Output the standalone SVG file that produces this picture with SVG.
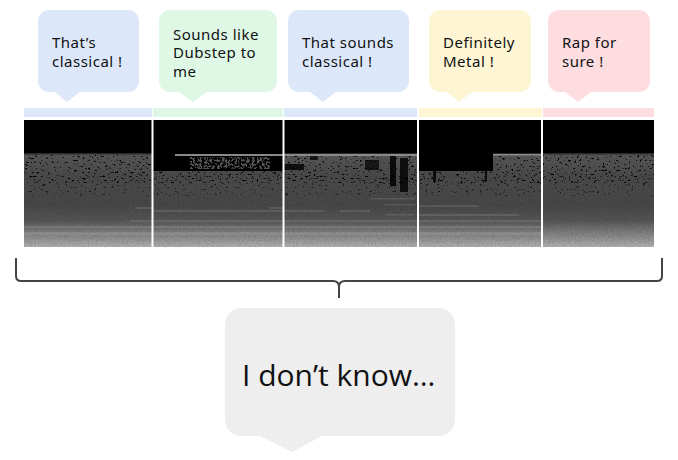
<svg xmlns="http://www.w3.org/2000/svg" width="678" height="460" viewBox="0 0 678 460">
<defs>
<style>
.t{font-family:"Noto Sans","Open Sans",sans-serif;font-size:15px;letter-spacing:0.5px;fill:#111}
.big{font-family:"Open Sans","Noto Sans",sans-serif;font-size:30px;fill:#111}
.blue{fill:#dce8fa}.green{fill:#dff8e5}.yellow{fill:#fdf5d3}.pink{fill:#fddde0}.grey{fill:#eeeeee}
.sep{stroke:#fff;stroke-width:2}
filter{color-interpolation-filters:sRGB}
</style>
<linearGradient id="spg" x1="0" y1="0" x2="0" y2="1">
<stop offset="0" stop-color="#585858"/>
<stop offset="0.26" stop-color="#585858"/>
<stop offset="0.43" stop-color="#4a4a4a"/>
<stop offset="0.67" stop-color="#474747"/>
<stop offset="0.79" stop-color="#545454"/>
<stop offset="0.85" stop-color="#6e6e6e"/>
<stop offset="0.93" stop-color="#8e8e8e"/>
<stop offset="1" stop-color="#b0b0b0"/>
</linearGradient>
<filter id="noise" x="0" y="0" width="100%" height="100%" color-interpolation-filters="sRGB">
<feTurbulence type="fractalNoise" baseFrequency="0.6 0.5" numOctaves="2" seed="4" result="n"/>
<feColorMatrix in="n" type="matrix" values="0.3 0 0 0 0.82  0.3 0 0 0 0.82  0.3 0 0 0 0.82  0 0 0 0 1" result="g"/>
<feGaussianBlur in="g" stdDeviation="0.5" result="gb"/>
<feBlend in="SourceGraphic" in2="gb" mode="multiply" result="b"/>
<feComposite in="b" in2="SourceGraphic" operator="in"/>
</filter>
<filter id="spk" x="0" y="0" width="100%" height="100%" color-interpolation-filters="sRGB">
<feTurbulence type="fractalNoise" baseFrequency="0.35 0.5" numOctaves="2" seed="7" result="n"/>
<feColorMatrix in="n" type="matrix" values="0 0 0 0 0  0 0 0 0 0  0 0 0 0 0  -12 0 0 0 4.3"/>
<feGaussianBlur stdDeviation="0.4"/>
<feComposite in2="SourceGraphic" operator="in"/>
</filter>
<filter id="spk2" x="0" y="0" width="100%" height="100%" color-interpolation-filters="sRGB">
<feTurbulence type="fractalNoise" baseFrequency="0.35 0.45" numOctaves="2" seed="11" result="n"/>
<feColorMatrix in="n" type="matrix" values="0 0 0 0 0  0 0 0 0 0  0 0 0 0 0  -12 0 0 0 4.0"/>
<feGaussianBlur stdDeviation="0.4"/>
<feComposite in2="SourceGraphic" operator="in"/>
</filter>
<filter id="gsp" x="0" y="0" width="100%" height="100%" color-interpolation-filters="sRGB">
<feTurbulence type="fractalNoise" baseFrequency="0.4 0.5" numOctaves="2" seed="3" result="n"/>
<feColorMatrix in="n" type="matrix" values="0 0 0 0 0.33  0 0 0 0 0.33  0 0 0 0 0.33  10 0 0 0 -4.6"/>
<feComposite in2="SourceGraphic" operator="in"/>
</filter>
</defs>

<g id="bubble-classical-1">
<rect class="blue" x="38" y="10" width="101" height="82" rx="11"/>
<polygon class="blue" points="55,92 80,92 67,102"/>
<text class="t" x="52" y="48">That’s</text>
<text class="t" x="52" y="67">classical !</text>
</g>
<g id="bubble-dubstep">
<rect class="green" x="159" y="10" width="118" height="82" rx="11"/>
<polygon class="green" points="179,92 207,92 193,102"/>
<text class="t" x="173" y="39.5">Sounds like</text>
<text class="t" x="173" y="58">Dubstep to</text>
<text class="t" x="173" y="77">me</text>
</g>
<g id="bubble-classical-2">
<rect class="blue" x="288" y="10" width="121" height="82" rx="11"/>
<polygon class="blue" points="310,92 336,92 323,102"/>
<text class="t" x="302" y="48">That sounds</text>
<text class="t" x="302" y="67">classical !</text>
</g>
<g id="bubble-metal">
<rect class="yellow" x="429" y="10" width="102" height="82" rx="11"/>
<polygon class="yellow" points="447,92 472,92 459,102"/>
<text class="t" x="443" y="48">Definitely</text>
<text class="t" x="443" y="67">Metal !</text>
</g>
<g id="bubble-rap">
<rect class="pink" x="548" y="10" width="102" height="82" rx="11"/>
<polygon class="pink" points="565,92 591,92 578,102"/>
<text class="t" x="562" y="48">Rap for</text>
<text class="t" x="562" y="67">sure !</text>
</g>

<g id="color-bars">
<rect class="blue" x="24" y="108" width="128" height="9"/>
<rect class="green" x="153" y="108" width="130" height="9"/>
<rect class="blue" x="284" y="108" width="133" height="9"/>
<rect class="yellow" x="419" y="108" width="123" height="9"/>
<rect class="pink" x="543" y="108" width="111" height="9"/>
</g>

<g id="spectrogram">
<rect x="24" y="120" width="630" height="127" fill="url(#spg)" filter="url(#noise)"/>
<g fill="#fff" opacity="0.1">
<rect x="24" y="232" width="518" height="3"/>
<rect x="24" y="226" width="518" height="2"/>
<rect x="130" y="220" width="412" height="2"/>
<rect x="153" y="210" width="130" height="2"/>
<rect x="284" y="210" width="40" height="2"/>
<rect x="340" y="210" width="30" height="2"/>
<rect x="370" y="198" width="45" height="1.5"/>
<rect x="385" y="204" width="30" height="1.5"/>
<rect x="385" y="214" width="30" height="1.5"/>
<rect x="419" y="205" width="60" height="2"/>
<rect x="419" y="214" width="100" height="2"/>
<rect x="135" y="207" width="17" height="2"/>
<rect x="270" y="207" width="13" height="2"/>
</g>
<rect x="24" y="120" width="630" height="33" fill="#000"/>
<rect x="24" y="153" width="630" height="1.5" fill="#000" opacity="0.5"/>
<rect x="24" y="155" width="630" height="28" fill="#000" filter="url(#spk)"/>
<rect x="24" y="176" width="630" height="20" fill="#000" filter="url(#spk2)" opacity="0.6"/>
<rect x="153" y="153" width="130" height="18" fill="#000"/>
<rect x="190" y="157" width="80" height="12" fill="#fff" filter="url(#gsp)"/>
<rect x="175" y="154" width="243" height="2" fill="#8a8a8a"/>
<rect x="284" y="164" width="20" height="6" fill="#000" opacity="0.8"/>
<rect x="419" y="153" width="74" height="18" fill="#000"/>
<rect x="433" y="170" width="3" height="12" fill="#000" opacity="0.8"/>
<rect x="485" y="160" width="2" height="22" fill="#000" opacity="0.8"/>
<rect x="493" y="154" width="48" height="1.5" fill="#8a8a8a"/>
<rect x="390" y="156" width="6" height="30" fill="#000" opacity="0.85"/>
<rect x="400" y="158" width="8" height="34" fill="#000" opacity="0.8"/>
<rect x="365" y="160" width="14" height="10" fill="#000" opacity="0.7"/>
<rect x="310" y="156" width="8" height="4" fill="#000" opacity="0.7"/>
<line class="sep" x1="152.5" y1="119" x2="152.5" y2="248"/>
<line class="sep" x1="283.5" y1="119" x2="283.5" y2="248"/>
<line class="sep" x1="418" y1="119" x2="418" y2="248"/>
<line class="sep" x1="542" y1="119" x2="542" y2="248"/>
</g>

<g id="connectors">
<path d="M16,258 L16,276 Q16,281 21,281 L333,281 Q339,281 339,287 L339,298 M339,287 Q339,281 345,281 L657,281 Q662,281 662,276 L662,258" fill="none" stroke="#444" stroke-width="2"/>
</g>

<g id="bubble-unknown">
<rect class="grey" x="225" y="308" width="230" height="128" rx="16"/>
<polygon class="grey" points="260,436 322,436 292,452"/>
<text class="big" x="242" y="386">I don’t know…</text>
</g>
</svg>
